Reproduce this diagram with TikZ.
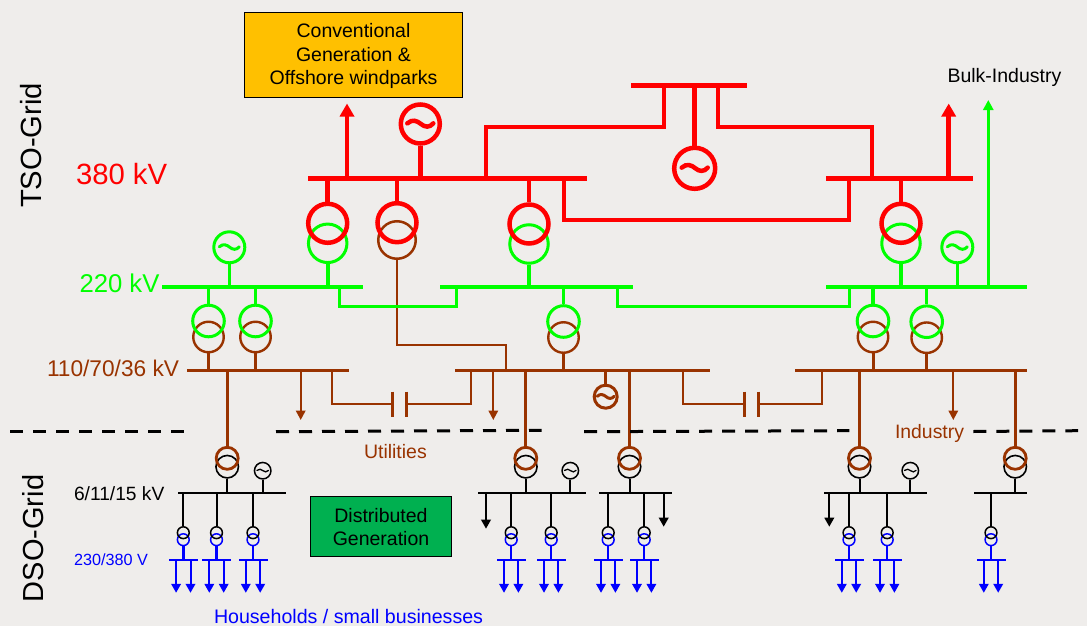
\documentclass[tikz,border=0pt]{standalone}
\usepackage{fontspec}
\setmainfont{Liberation Sans}
\usetikzlibrary{arrows.meta}
\definecolor{bgc}{HTML}{EFEDEB}
\definecolor{redc}{HTML}{FF0000}
\definecolor{greenc}{HTML}{00FF00}
\definecolor{brownc}{HTML}{993300}
\definecolor{bluec}{HTML}{0000FF}
\definecolor{yellowc}{HTML}{FFC000}
\definecolor{dgreenc}{HTML}{00B050}
\tikzset{
  ring/.style n args={3}{circle,draw=#1,line width=#2,minimum size=#3,inner sep=0pt},
  ringR/.style={ring={redc}{4.5pt}{39pt}},
  ringG/.style={ring={greenc}{3pt}{38.5pt}},
  ringB/.style={ring={brownc}{2.5pt}{37.5pt}},
  ringGs/.style={ring={greenc}{3pt}{31.6pt}},
  ringBs/.style={ring={brownc}{2.4pt}{30.5pt}},
  ringBt/.style={ring={brownc}{2.8pt}{22pt}},
  ringK/.style={ring={black}{1.6pt}{22.5pt}},
  genK/.style={ring={black}{1.5pt}{16.5pt}},
  genBr/.style={ring={brownc}{3pt}{23pt}},
  smK/.style={ring={black}{1.5pt}{11.8pt}},
  smU/.style={ring={bluec}{1.5pt}{11.8pt}},
  busnode/.style={rectangle,inner sep=0pt,outer sep=0pt},
  lnR/.style={draw=redc,line width=4.5pt},
  lnG/.style={draw=greenc,line width=3.5pt},
  lnGt/.style={draw=greenc,line width=3pt},
  lnB/.style={draw=brownc,line width=3pt},
  lnBt/.style={draw=brownc,line width=2.2pt},
  lnK/.style={draw=black,line width=2pt},
  lnU/.style={draw=bluec,line width=2.5pt},
  arrR/.style={draw=redc,fill=redc,line width=4.5pt,-{Triangle[length=13pt,width=14pt]}},
  arrG/.style={draw=greenc,fill=greenc,line width=3pt,-{Triangle[length=10pt,width=10pt]}},
  arrB/.style={draw=brownc,fill=brownc,line width=2pt,-{Triangle[length=9.5pt,width=9.5pt]}},
  arrK/.style={draw=black,fill=black,line width=2pt,-{Triangle[length=9pt,width=9.5pt]}},
  arrU/.style={draw=bluec,fill=bluec,line width=2pt,-{Triangle[length=9pt,width=9.5pt]}},
  platesty/.style={draw=brownc,line width=3pt},
  dashln/.style={draw=black,line width=3pt,dash pattern=on 13pt off 10pt},
  lbl/.style={inner sep=0pt,outer sep=0pt,anchor=base west},
  boxn/.style={rectangle,draw=black,line width=1pt,inner sep=0pt,align=center,
     font=\fontsize{19.5}{23.6}\selectfont},
}
\newcommand{\busline}[6]{% name x1 x2 y colour thickness
  \node[busnode,fill=#5,minimum width={(#3)-(#2)},minimum height=#6] (#1) at ({((#2)+(#3))/2},#4) {};}
\newcommand{\wave}[4]{% node halfwidth colour width
  \draw[#3,line width=#4,line cap=round,shift={(#1.center)},scale=#2]
    (-1,-0.05) .. controls (-0.6,-0.4) and (-0.25,-0.25) .. (0.05,0)
    .. controls (0.35,0.25) and (0.7,0.3) .. (1,-0.05);}
\newcommand{\lvunit}[3]{% name mvbus x
  \node[smU] (#1u) at (#3,539.7) {};
  \node[smK] (#1k) at (#3,532.7) {};
  \busline{#1l}{#3-14.5}{#3+14.5}{560}{bluec}{2.2pt}
  \coordinate (#1t) at (#3,592.8);
  \draw[lnK] (#1k |- #2) -- (#1k.north);
  \draw[lnU] (#1u.south) -- (#1l.center);
  \draw[arrU] ([xshift=-7.2pt]#1l.center) -- ([xshift=-7.2pt]#1t);
  \draw[arrU] ([xshift=7.2pt]#1l.center) -- ([xshift=7.2pt]#1t);}
\newcommand{\mvxf}[3]{% name x mvbus
  \node[ringK] (#1k) at (#2,466.7) {};
  \node[ringBt] (#1b) at (#2,458.3) {};
  \draw[lnB] (#1b |- 0,370.3) -- (#1b.north);
  \draw[lnK] (#1k.south) -- (#1k |- #3);}
\newcommand{\hvxf}[3]{% name x y (top green / bottom brown)
  \node[ringBs] (#1b) at (#2,#3+16) {};
  \node[ringGs] (#1g) at (#2,#3) {};
  \draw[lnG] (#1g.north) -- (#1g |- 0,287);
  \draw[lnB] (#1b.south) -- (#1b |- 0,370.3);}
\begin{document}
\begin{tikzpicture}[x=1pt,y=-1pt]
\path[use as bounding box,fill=bgc] (0,0) rectangle (1087,626);

% --- boxes and labels
\node[boxn,fill=yellowc,minimum width=218pt,minimum height=84pt] (conv) at (353.5,55) {};
\node[inner sep=0pt,align=center,font=\fontsize{19.5}{23.6}\selectfont] (convt) at (353.5,56)
  {Conventional\\Generation \&\\Offshore windparks};
\node[boxn,fill=dgreenc,minimum width=141pt,minimum height=60pt] (dist) at (381,526.7) {};
\node[inner sep=0pt,align=center,font=\fontsize{19.5}{23.6}\selectfont] (distt) at (381,527.2)
  {Distributed\\Generation};
\node[lbl,text=black,font=\fontsize{19.5}{23}\selectfont] (lbulk) at (947.5,82) {Bulk-Industry};
\node[lbl,text=redc,font=\fontsize{29.3}{34}\selectfont] (l380) at (76,184.3) {380 kV};
\node[lbl,text=greenc,font=\fontsize{25.7}{30}\selectfont] (l220) at (79.5,292.8) {220 kV};
\node[lbl,text=brownc,font=\fontsize{22.7}{26}\selectfont] (l110) at (47,376) {110/70/36 kV};
\node[lbl,text=black,font=\fontsize{19.2}{23}\selectfont] (l6) at (74,500.7) {6/11/15 kV};
\node[lbl,text=bluec,font=\fontsize{16.2}{20}\selectfont] (l230) at (74,565.6) {230/380 V};
\node[lbl,text=bluec,font=\fontsize{19.6}{23}\selectfont] (lhh) at (214,623.5) {Households / small businesses};
\node[lbl,text=brownc,font=\fontsize{19.5}{23}\selectfont] (lut) at (364,458) {Utilities};
\node[lbl,text=brownc,font=\fontsize{19.4}{23}\selectfont] (lind) at (895,438) {Industry};
\node[inner sep=0pt,outer sep=0pt,anchor=base,rotate=90,font=\fontsize{29.2}{34}\selectfont] (ltso) at (41.8,145.5) {TSO-Grid};
\node[inner sep=0pt,outer sep=0pt,anchor=base,rotate=90,font=\fontsize{29}{34}\selectfont] (ldso) at (43,538.5) {DSO-Grid};

% --- bus bars
\busline{rA}{308}{587}{178.3}{redc}{4.5pt}
\busline{rB}{826}{973}{178.3}{redc}{4.5pt}
\busline{rT}{631}{747}{85.3}{redc}{4.5pt}
\busline{gL}{162}{363}{287}{greenc}{3.5pt}
\busline{gM}{440}{632.7}{287}{greenc}{3.5pt}
\busline{gR}{826}{1027}{287}{greenc}{3.5pt}
\busline{bL}{187}{349}{370.3}{brownc}{3pt}
\busline{bM}{455}{710}{370.3}{brownc}{3pt}
\busline{bR}{795}{1027}{370.3}{brownc}{3pt}
\busline{kL}{178.3}{286}{493}{black}{2pt}
\busline{kM}{478}{586}{493}{black}{2pt}
\busline{kN}{599.3}{672}{493}{black}{2pt}
\busline{kR}{824}{927}{493}{black}{2pt}
\busline{kS}{974}{1027}{493}{black}{2pt}

% --- 380 kV
\coordinate (a1) at (347,103.5);
\coordinate (a2) at (948.7,103.5);
\draw[arrR] (a1 |- rA) -- (a1);
\draw[arrR] (a2 |- rB) -- (a2);
\node[ringR] (g1) at (420.3,124) {};
\wave{g1}{13}{redc}{4.5pt}
\draw[lnR] (g1.south) -- (g1 |- rA);
\node[ringR,minimum height=41pt] (g2) at (694.7,168.3) {};
\wave{g2}{13}{redc}{4.5pt}
\draw[lnR] (g2 |- rT) -- (g2.north);
\coordinate (k1) at (486.3,126.7);
\coordinate (k2) at (663.7,126.7);
\coordinate (k3) at (718,126.7);
\coordinate (k4) at (872.3,126.7);
\coordinate (k5) at (563.7,220.3);
\coordinate (k6) at (849.3,220.3);
\draw[lnR,line width=4pt] (k1 |- rA) -- (k1) -- (k2) -- (k2 |- rT);
\draw[lnR,line width=4pt] (k3 |- rT) -- (k3) -- (k4) -- (k4 |- rB);
\draw[lnR,line width=4pt] (k5 |- rA) -- (k5) -- (k6) -- (k6 |- rB);

% --- 380/220 transformers
\node[ringG] (t1g) at (327.7,243.3) {};
\node[ringR] (t1r) at (327.7,223.3) {};
\node[ringB] (t2b) at (397,240) {};
\node[ringR] (t2r) at (397,222.7) {};
\node[ringG] (t3g) at (529,244) {};
\node[ringR] (t3r) at (529,224) {};
\node[ringG] (t4g) at (901,243.3) {};
\node[ringR] (t4r) at (901,223.3) {};
\draw[lnR] (t1r |- rA) -- (t1r.north);
\draw[lnR] (t2r |- rA) -- (t2r.north);
\draw[lnR] (t3r |- rA) -- (t3r.north);
\draw[lnR] (t4r |- rB) -- (t4r.north);
\draw[lnG,line width=4pt] (t1g.south) -- (t1g |- gL);
\draw[lnG,line width=4pt] (t3g.south) -- (t3g |- gM);
\draw[lnG,line width=4pt] (t4g.south) -- (t4g |- gR);
\coordinate (b1) at (506,345);
\draw[lnBt] (t2b.south) -- (t2b |- b1) -- (b1) -- (b1 |- bM);

% --- 220 kV
\node[ring={greenc}{3pt}{31pt}] (g3) at (229.3,247.3) {};
\wave{g3}{10}{greenc}{3pt}
\draw[lnG] (g3.south) -- (g3 |- gL);
\node[ring={greenc}{3pt}{31pt}] (g4) at (957.3,247.3) {};
\wave{g4}{10}{greenc}{3pt}
\draw[lnG] (g4.south) -- (g4 |- gR);
\coordinate (a3) at (988.3,100);
\draw[arrG] (a3 |- gR) -- (a3);
\coordinate (c1) at (339,306.7);
\coordinate (c2) at (456,306.7);
\coordinate (c3) at (617,306.7);
\coordinate (c4) at (849,306.7);
\draw[lnGt] (c1 |- gL) -- (c1) -- (c2) -- (c2 |- gM);
\draw[lnGt] (c3 |- gM) -- (c3) -- (c4) -- (c4 |- gR);

% --- 220/110 transformers
\hvxf{h1}{208.5}{321}
\hvxf{h2}{255.5}{321}
\hvxf{h3}{563.5}{321.5}
\hvxf{h4}{873}{321}
\hvxf{h5}{926.7}{321.7}

% --- 110 kV loads, capacitors, generator
\coordinate (a4) at (300.7,420);
\coordinate (a5) at (493.3,420);
\coordinate (a6) at (953.3,420);
\draw[arrB] (a4 |- bL) -- (a4);
\draw[arrB] (a5 |- bM) -- (a5);
\draw[arrB] (a6 |- bR) -- (a6);
\node[genBr] (g5) at (605.7,396.7) {};
\wave{g5}{8.5}{brownc}{3pt}
\draw[lnB] (g5 |- bM) -- (g5.north);
\coordinate (p1t) at (392.7,391.7);
\coordinate (p1b) at (392.7,416.7);
\coordinate (p2t) at (406.3,391.7);
\coordinate (p2b) at (406.3,416.7);
\coordinate (d1) at (331.7,404);
\coordinate (d2) at (470.7,404);
\draw[platesty] (p1t) -- (p1b);
\draw[platesty] (p2t) -- (p2b);
\draw[lnBt] (d1 |- bL) -- (d1) -- (d1 -| p1t);
\draw[lnBt] (d2 |- bM) -- (d2) -- (d2 -| p2t);
\coordinate (p3t) at (744.3,391.7);
\coordinate (p3b) at (744.3,416.7);
\coordinate (p4t) at (758,391.7);
\coordinate (p4b) at (758,416.7);
\coordinate (d3) at (682.7,404);
\coordinate (d4) at (822.3,404);
\draw[platesty] (p3t) -- (p3b);
\draw[platesty] (p4t) -- (p4b);
\draw[lnBt] (d3 |- bM) -- (d3) -- (d3 -| p3t);
\draw[lnBt] (d4 |- bR) -- (d4) -- (d4 -| p4t);

% --- 110/MV transformers
\mvxf{m1}{227.2}{kL}
\mvxf{m2}{525.8}{kM}
\mvxf{m3}{629.5}{kN}
\mvxf{m4}{859.5}{kR}
\mvxf{m5}{1015.2}{kS}

% --- MV generators and loads
\node[genK] (g6) at (262.7,470.7) {};
\wave{g6}{5.8}{black}{1.3pt}
\draw[lnK] (g6.south) -- (g6 |- kL);
\node[genK] (g7) at (570.3,470.7) {};
\wave{g7}{5.8}{black}{1.3pt}
\draw[lnK] (g7.south) -- (g7 |- kM);
\node[genK] (g8) at (910.3,470.7) {};
\wave{g8}{5.8}{black}{1.3pt}
\draw[lnK] (g8.south) -- (g8 |- kR);
\coordinate (a7) at (486,528.7);
\coordinate (a8) at (663.7,526.7);
\coordinate (a9) at (829.3,526.7);
\draw[arrK] (a7 |- kM) -- (a7);
\draw[arrK] (a8 |- kN) -- (a8);
\draw[arrK] (a9 |- kR) -- (a9);

% --- LV units
\lvunit{u1}{kL}{183.3}
\lvunit{u2}{kL}{216.5}
\lvunit{u3}{kL}{253}
\lvunit{u4}{kM}{511.2}
\lvunit{u5}{kM}{551.2}
\lvunit{u6}{kN}{608.2}
\lvunit{u7}{kN}{644.2}
\lvunit{u8}{kR}{849}
\lvunit{u9}{kR}{887.2}
\lvunit{u10}{kS}{991}

% --- border between grids
\coordinate (s1a) at (10,431.7);
\coordinate (s1b) at (185,431.7);
\coordinate (s2a) at (276,431.7);
\coordinate (s2b) at (541.7,430.3);
\coordinate (s3a) at (584,431.7);
\coordinate (s3b) at (849.3,430.7);
\coordinate (s4a) at (973.3,431.5);
\coordinate (s4b) at (1078,430.7);
\draw[dashln] (s1a) -- (s1b);
\draw[dashln] (s2a) -- (s2b);
\draw[dashln] (s3a) -- (s3b);
\draw[dashln] (s4a) -- (s4b);
\end{tikzpicture}
\end{document}
